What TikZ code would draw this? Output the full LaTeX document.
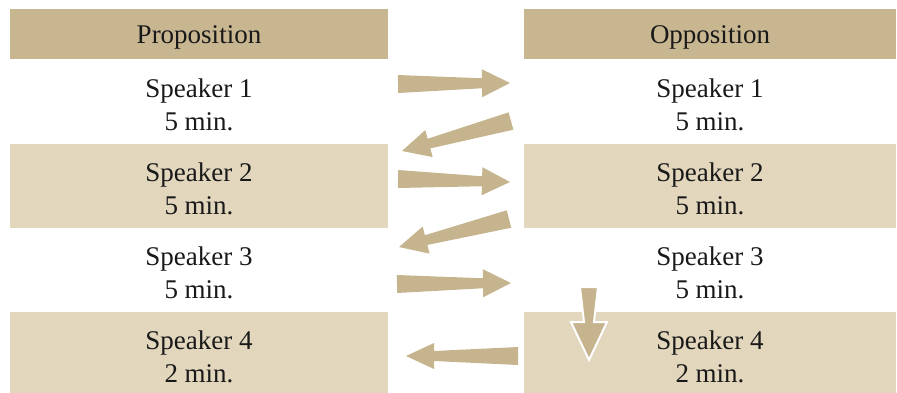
\documentclass[tikz,border=0pt]{standalone}
\usepackage{fontspec}
\setmainfont{Liberation Serif}
\usetikzlibrary{calc}
\definecolor{bardark}{HTML}{C8B691}
\definecolor{barlight}{HTML}{E2D6BD}
\definecolor{arrowtan}{HTML}{C6B48E}
\newcommand\spk[2]{\rule{0pt}{25pt}Speaker #1\\#2 min.}
\tikzset{
  cell/.style={minimum width=378pt, minimum height=84.5pt, inner sep=0pt, align=center,
    font=\fontsize{27}{33}\selectfont, text=black!90},
  oppcell/.style={cell, minimum width=372pt},
  head/.style={fill=bardark, minimum height=50pt},
  shaded/.style={fill=barlight},
  blk/.style 2 args={fill=arrowtan, to path={
    -- ($(\tikztostart)!9pt!90:(\tikztotarget)$)
    -- ($($(\tikztotarget)!#1!(\tikztostart)$)!5pt!90:(\tikztotarget)$)
    -- ($($(\tikztotarget)!#1!(\tikztostart)$)!#2!90:(\tikztotarget)$)
    -- (\tikztotarget)
    -- ($($(\tikztotarget)!#1!(\tikztostart)$)!#2!-90:(\tikztotarget)$)
    -- ($($(\tikztotarget)!#1!(\tikztostart)$)!5pt!-90:(\tikztotarget)$)
    -- ($(\tikztostart)!9pt!-90:(\tikztotarget)$)
    -- cycle}},
}
\begin{document}
\begin{tikzpicture}[x=1pt, y=-1pt]
\useasboundingbox (0,0) rectangle (897,392);
% headers
\node[cell, head] (prop) at (199,34) {\rule{0pt}{25pt}Proposition};
\node[oppcell, head] (opp) at (710,34) {\rule{0pt}{25pt}Opposition};
% proposition speakers
\node[cell] (p1) at (199,101.5) {\spk{1}{5}};
\node[cell, shaded] (p2) at (199,186) {\spk{2}{5}};
\node[cell, shaded] (p4) at (199,354) {\spk{4}{2}};
\node[cell] (p3) at (199,270) {\spk{3}{5}};
% opposition speakers
\node[oppcell] (o1) at (710,101.5) {\spk{1}{5}};
\node[oppcell, shaded] (o2) at (710,186) {\spk{2}{5}};
\node[oppcell, shaded] (o4) at (710,354) {\spk{4}{2}};
\node[oppcell] (o3) at (710,270) {\spk{3}{5}};
% arrow ends
\coordinate (t1) at (398,84);  \coordinate (h1) at (510,83);
\coordinate (t2) at (511,121); \coordinate (h2) at (402,151);
\coordinate (t3) at (398,179); \coordinate (h3) at (510,182);
\coordinate (t4) at (509,219); \coordinate (h4) at (399,247);
\coordinate (t5) at (397,284); \coordinate (h5) at (511,283);
\coordinate (t6) at (589,287); \coordinate (h6) at (589,360);
\coordinate (t7) at (518,356); \coordinate (h7) at (406,356);
% speaking order
\path[blk={28pt}{14pt}] (t1) to (h1);
\path[blk={28pt}{14pt}] (t2) to (h2);
\path[blk={28pt}{14pt}] (t3) to (h3);
\path[blk={28pt}{14pt}] (t4) to (h4);
\path[blk={28pt}{14pt}] (t5) to (h5);
\path[blk={38pt}{18pt}, draw=white, line width=2pt] (t6) to (h6);
\path[blk={28pt}{13pt}] (t7) to (h7);
\end{tikzpicture}
\end{document}
